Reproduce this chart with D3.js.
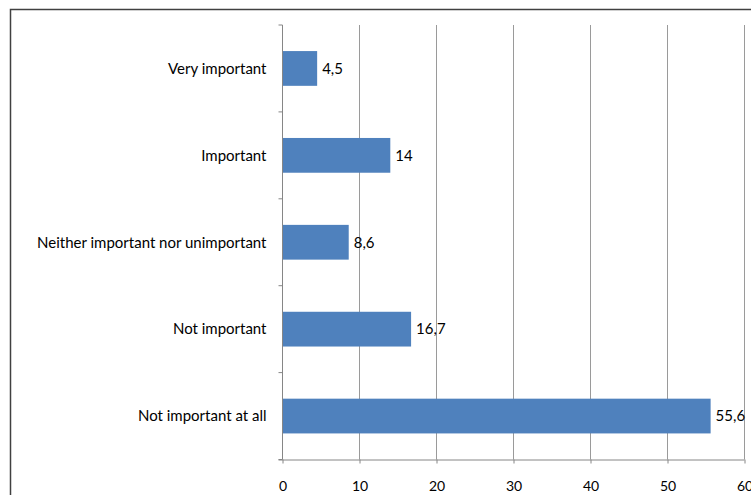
<!DOCTYPE html>
<html>
<head>
<meta charset="utf-8">
<script src="https://cdn.jsdelivr.net/npm/d3@7"></script>
<style>
  body { margin: 0; background: #fff; }
  svg { display: block; font-family: Lato, "Open Sans", sans-serif; }
</style>
</head>
<body>
<svg id="chart" width="751" height="495"></svg>
<script>
// categories top to bottom, with their percentages
const categories = ["Very important", "Important", "Neither important nor unimportant", "Not important", "Not important at all"];
const values = [4.5, 14, 8.6, 16.7, 55.6];
const xTicks = [0, 10, 20, 30, 40, 50, 60];

const width = 751, height = 495;
const margin = {left: 282.5, right: 6.5, top: 25, bottom: 35.5};
const fontSize = 15;

const svg = d3.select("#chart");

// outer chart frame (cut off at the right and bottom)
svg.append("rect")
    .attr("x", 10.5).attr("y", 9.5)
    .attr("width", 800).attr("height", 600)
    .attr("fill", "none")
    .attr("stroke", "#404040")
    .attr("stroke-width", 1.5);

const x = d3.scaleLinear().domain([0, 60]).range([margin.left, width - margin.right]);
const y = d3.scaleBand().domain(categories).range([margin.top, height - margin.bottom]).paddingInner(0.6).paddingOuter(0.3);

const fmt = v => String(v).replace(".", ",");

// vertical gridlines
svg.append("g")
  .selectAll("line")
  .data(xTicks.slice(1))
  .join("line")
    .attr("x1", d => x(d)).attr("x2", d => x(d))
    .attr("y1", margin.top).attr("y2", height - margin.bottom)
    .attr("stroke", "#9a9a9a")
    .attr("stroke-width", 1);

// bars
svg.append("g")
  .selectAll("rect")
  .data(values)
  .join("rect")
    .attr("x", x(0))
    .attr("y", (d, i) => y(categories[i]))
    .attr("width", d => x(d) - x(0))
    .attr("height", y.bandwidth())
    .attr("fill", "#4F81BD");

// value labels
svg.append("g")
  .selectAll("text")
  .data(values)
  .join("text")
    .attr("x", d => x(d) + 5)
    .attr("y", (d, i) => y(categories[i]) + y.bandwidth() / 2)
    .attr("dy", "0.35em")
    .attr("font-size", fontSize)
    .attr("fill", "#000")
    .text(fmt);

// bottom axis
const xAxis = svg.append("g")
    .attr("transform", `translate(0,${height - margin.bottom})`)
    .call(d3.axisBottom(x).tickValues(xTicks).tickSize(4).tickPadding(18));
xAxis.select(".domain").attr("stroke", "#868686").attr("d", `M${margin.left - 4},0.5H${width - margin.right}`);
xAxis.selectAll(".tick line").attr("stroke", "#868686");
xAxis.selectAll(".tick text").attr("font-size", 14).attr("font-family", "Lato, sans-serif").attr("fill", "#000");

// left axis: ticks between categories
const bounds = d3.range(categories.length + 1).map(i => margin.top + i * (height - margin.top - margin.bottom) / categories.length);
svg.append("line")
    .attr("x1", x(0)).attr("x2", x(0))
    .attr("y1", margin.top).attr("y2", height - margin.bottom)
    .attr("stroke", "#868686");
svg.append("g")
  .selectAll("line")
  .data(bounds)
  .join("line")
    .attr("x1", x(0) - 4).attr("x2", x(0))
    .attr("y1", d => d).attr("y2", d => d)
    .attr("stroke", "#868686");

// category labels
svg.append("g")
  .selectAll("text")
  .data(categories)
  .join("text")
    .attr("x", x(0) - 16)
    .attr("y", d => y(d) + y.bandwidth() / 2)
    .attr("dy", "0.35em")
    .attr("text-anchor", "end")
    .attr("font-size", fontSize)
    .attr("fill", "#000")
    .text(d => d);
</script>
</body>
</html>
